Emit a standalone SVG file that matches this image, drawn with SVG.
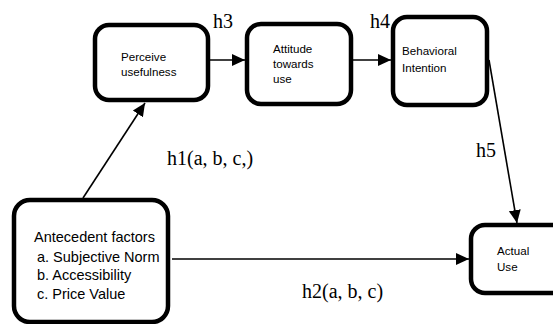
<svg xmlns="http://www.w3.org/2000/svg" width="553" height="324" viewBox="0 0 553 324">
<style>
.box{fill:#fff;stroke:#000;stroke-width:4.5}
.bt{font-family:"Liberation Sans",Arial,sans-serif;font-size:11.6px;fill:#000}
.at{font-family:"Liberation Sans",Arial,sans-serif;font-size:14.5px;fill:#000}
.h{font-family:"Liberation Serif","Times New Roman",serif;font-size:20px;fill:#000}
.c{stroke:#000;stroke-width:1.6;fill:none;marker-end:url(#ah)}
</style>
<defs>
<marker id="ah" markerUnits="userSpaceOnUse" markerWidth="14" markerHeight="14" viewBox="0 0 14 14" refX="13" refY="7" orient="auto">
<path d="M0,1 L13,7 L0,13 Z" fill="#000"/>
</marker>
</defs>
<rect width="553" height="324" fill="#fff"/>
<g id="connectors">
<line class="c" x1="210" y1="60" x2="245" y2="60"/>
<line class="c" x1="353" y1="60" x2="391" y2="60"/>
<line class="c" x1="83" y1="198" x2="145" y2="103"/>
<line class="c" x1="489" y1="60" x2="517" y2="223"/>
<line class="c" x1="172" y1="259" x2="469" y2="259"/>
<text class="h" x="213" y="28">h3</text>
<text class="h" x="370" y="28">h4</text>
<text class="h" x="167" y="165">h1(a, b, c,)</text>
<text class="h" x="476" y="157">h5</text>
<text class="h" x="302" y="298">h2(a, b, c)</text>
</g>
<g id="perceive">
<rect class="box" x="95" y="25" width="113" height="75" rx="14"/>
<text class="bt" x="121" y="61">Perceive</text>
<text class="bt" x="121" y="76">usefulness</text>
</g>
<g id="attitude">
<rect class="box" x="247" y="24" width="104" height="80" rx="14"/>
<text class="bt" x="273" y="53">Attitude</text>
<text class="bt" x="273" y="68">towards</text>
<text class="bt" x="273" y="83">use</text>
</g>
<g id="behavioral">
<rect class="box" x="393" y="17" width="94" height="88" rx="14"/>
<text class="bt" x="402" y="55">Behavioral</text>
<text class="bt" x="402" y="72">Intention</text>
</g>
<g id="antecedent">
<rect class="box" x="14" y="200" width="154" height="122" rx="16"/>
<text class="at" x="34" y="242">Antecedent factors</text>
<text class="at" x="37" y="262">a. Subjective Norm</text>
<text class="at" x="37" y="280">b. Accessibility</text>
<text class="at" x="37" y="299">c. Price Value</text>
</g>
<g id="actual">
<rect class="box" x="471" y="225" width="100" height="68" rx="14"/>
<text class="bt" x="497" y="255">Actual</text>
<text class="bt" x="497" y="271">Use</text>
</g>
</svg>
